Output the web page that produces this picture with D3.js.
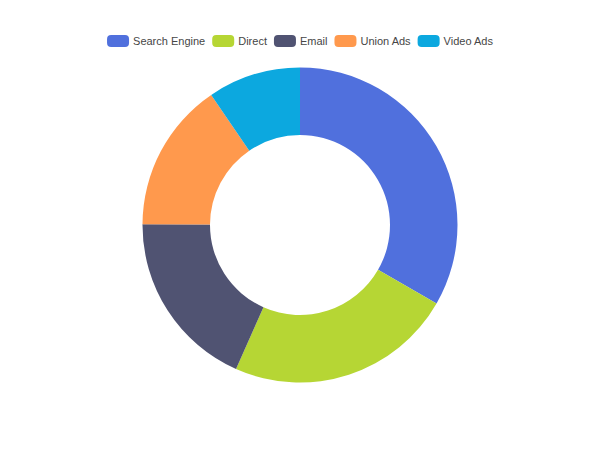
<!DOCTYPE html>
<html>
<head>
<meta charset="utf-8">
<script src="https://cdn.jsdelivr.net/npm/d3@7"></script>
<style>
  html, body { margin: 0; padding: 0; background: #fff; }
  text { font-family: "Liberation Sans", Arial, sans-serif; }
</style>
</head>
<body>
<div id="chart"></div>
<script>
var categories = ["Search Engine", "Direct", "Email", "Union Ads", "Video Ads"];
var values = [1048, 735, 580, 484, 300];
var colors = ["#5070dd", "#b6d634", "#505372", "#ff994d", "#0ca8df"];

var w = 600, h = 450;

var svg = d3.select("#chart")
  .append("svg")
  .attr("width", w)
  .attr("height", h)
  .style("background-color", "white");

var data = categories.map(function (c, i) { return { name: c, value: values[i] }; });

// donut, radius 40% / 70% of half the smaller side
var base = Math.min(w, h) / 2;
var pie = d3.pie().sort(null).value(function (d) { return d.value; });
var arc = d3.arc().innerRadius(base * 0.4).outerRadius(base * 0.7);

var color = d3.scaleOrdinal().domain(categories).range(colors);

svg.append("g")
  .attr("transform", "translate(" + (w / 2) + "," + (h / 2) + ")")
  .selectAll("path")
  .data(pie(data))
  .enter()
  .append("path")
  .attr("d", arc)
  .style("fill", function (d) { return color(d.data.name); });

// legend, centered on top
var legend = svg.append("g");
var itemW = 22, itemH = 12, gap = 7, textGap = 4;
var x = 0;
categories.forEach(function (c) {
  var g = legend.append("g").attr("transform", "translate(" + x + ",0)");
  g.append("rect")
    .attr("width", itemW).attr("height", itemH)
    .attr("y", -itemH / 2)
    .attr("rx", 4).attr("ry", 4)
    .style("fill", color(c));
  var t = g.append("text")
    .attr("x", itemW + textGap)
    .attr("dy", "0.35em")
    .style("font-size", "11px")
    .style("fill", "#464646")
    .text(c);
  x += itemW + textGap + t.node().getComputedTextLength() + gap;
});
x -= gap;
legend.attr("transform", "translate(" + ((w - x) / 2) + ",41)");
</script>
</body>
</html>
